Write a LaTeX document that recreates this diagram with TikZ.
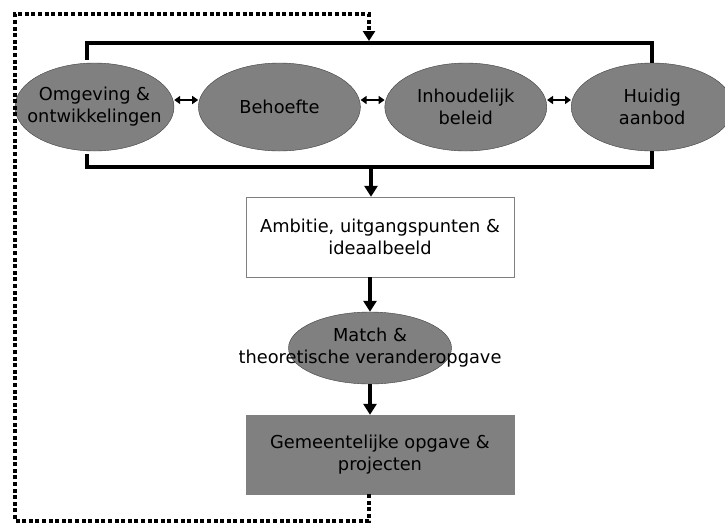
\documentclass[tikz,border=0pt]{standalone}
\usepackage{fontspec}
\setmainfont{DejaVu Sans}
\usepackage{tikz}
\usetikzlibrary{positioning}
\usetikzlibrary{shapes.geometric}
\usetikzlibrary{arrows.meta}

\begin{document}
\begin{tikzpicture}[
        x = 1pt, y = -1pt,
        blob/.style = {
            draw=black!75,
            fill=black!50,
            ellipse,
            minimum width = #1,
            minimum height = 88pt,
            inner sep = -14pt,
            align = center
        },
        blob/.default = 162pt,
        box/.style = {
            draw=black!50,
            rectangle,
            minimum width = 268pt,
            minimum height = 80pt,
            align = center
        },
        bar/.style = {line width = 4pt, shorten <= 3pt},
        arr/.style = {line width = 4pt, -{Triangle[width=13pt,length=11pt]}},
        link/.style = {line width = 2pt, {Triangle[width=8pt,length=6pt]}-{Triangle[width=8pt,length=6pt]}},
        feedback/.style = {line width = 4pt, dash pattern = on 4pt off 2.6pt, shorten >= 2pt, -{Triangle[width=12pt,length=10pt]}},
        font = \fontsize{17.8}{22}\selectfont,
        node distance = {24pt}
    ]
    \useasboundingbox (0,0) rectangle (725,523);

    \node[blob=159pt] (omgeving) at (94.5,107) {Omgeving \&\\ontwikkelingen};
    \node[blob, right=of omgeving] (behoefte) {Behoefte};
    \node[blob, right=of behoefte] (inhoudelijk) {Inhoudelijk\\beleid};
    \node[blob, right=of inhoudelijk] (huidig) {Huidig\\aanbod};

    \node[box, fill=white] (ambitie) at (380,237) {Ambitie, uitgangspunten \&\\ideaalbeeld};
    \node[blob=163pt, minimum height=72pt] (match) at (370,348) {};
    \node[align=center, inner sep=0pt] (matchtext) at (match) {Match \&\\theoretische veranderopgave};
    \node[box, fill=black!50, minimum height=79pt] (gemeente) at (380,454.5) {Gemeentelijke opgave \&\\projecten};

    \coordinate (top) at (369,43);
    \coordinate (bot) at (371,167);
    \coordinate (lb) at (15,521);
    \coordinate (lt) at (15,14);

    \draw[bar] ([xshift=-8pt]omgeving.north) |- (top) -| (huidig.north);
    \draw[bar] ([xshift=-8pt]omgeving.south) |- (bot) -| (huidig.south);

    \draw[link] ([yshift=7pt]omgeving.east) -- ([yshift=7pt]behoefte.west);
    \draw[link] ([yshift=7pt]behoefte.east) -- ([yshift=7pt]inhoudelijk.west);
    \draw[link] ([yshift=7pt]inhoudelijk.east) -- ([yshift=7pt]huidig.west);

    \draw[arr] (bot) -- (ambitie.north -| bot);
    \draw[arr] (ambitie.south -| match) -- (match);
    \draw[arr] (match) -- (gemeente.north -| match);

    \draw[feedback] (gemeente.south -| top) |- (lb) |- (lt) -| (top);
\end{tikzpicture}
\end{document}
